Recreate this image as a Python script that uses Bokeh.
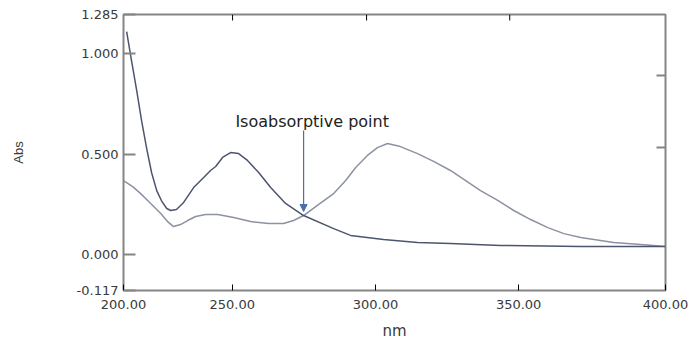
import math
from bokeh.plotting import figure
from bokeh.models import (LinearAxis, FixedTicker, NumeralTickFormatter, Range1d,
                          Arrow, NormalHead, Label)
from bokeh.embed import file_html
from bokeh.resources import INLINE

# ---------------- data ----------------
# spectrum A (sharp UV rise, band near 250 nm)
NM_A = [213.1, 214.8, 216.6, 218.3, 220.1, 221.8, 223.6, 225.4, 227.1, 228.5,
        230.5, 233.0, 236.5, 240.0, 242.4, 244.2, 246.6, 249.4, 252.2, 255.3,
        259.2, 263.4, 268.6, 274.9, 285.4, 291.3, 302.8, 314.7, 326.2, 343.7,
        371.7, 401.3]
ABS_A = [1.109, 0.965, 0.816, 0.667, 0.527, 0.408, 0.318, 0.264, 0.229, 0.219,
         0.224, 0.259, 0.333, 0.383, 0.418, 0.438, 0.483, 0.507, 0.502, 0.468,
         0.408, 0.333, 0.254, 0.194, 0.129, 0.095, 0.075, 0.060, 0.055, 0.045,
         0.040, 0.040]

# spectrum B (band near 305 nm)
NM_B = [212.0, 215.2, 218.0, 221.5, 225.0, 227.4, 229.5, 231.9, 234.4, 237.2,
        240.7, 244.9, 250.5, 256.4, 262.7, 267.9, 271.4, 274.9, 280.2, 285.4,
        289.6, 293.1, 297.2, 300.7, 304.2, 308.7, 314.7, 320.3, 326.2, 331.5,
        336.7, 342.7, 348.3, 354.2, 360.2, 365.8, 371.7, 383.2, 392.6, 401.3]
ABS_B = [0.368, 0.338, 0.303, 0.254, 0.204, 0.164, 0.139, 0.149, 0.169, 0.189,
         0.199, 0.199, 0.184, 0.164, 0.154, 0.154, 0.169, 0.194, 0.249, 0.303,
         0.368, 0.433, 0.493, 0.532, 0.552, 0.537, 0.502, 0.463, 0.418, 0.368,
         0.318, 0.269, 0.219, 0.174, 0.134, 0.104, 0.085, 0.060, 0.050, 0.040]

# isoabsorptive point
ISO_NM = 274.9
ISO_ABS = 0.194
ANNOT_TEXT = "Isoabsorptive point"

# axes
X_START, X_END = 212.0, 401.3
Y_START, Y_END = -0.179, 1.194
X_TICKS = [250, 300, 350]
X_EDGE_LABELS = ["200.00", "400.00"]
Y_TICKS = [0.0, 0.5, 1.0]
Y_EDGE_LABELS = ["-0.117", "1.285"]
TOP_TICKS = [250.1, 296.9, 346.9]
RIGHT_TICKS = [0.532, 0.891]
X_LABEL = "nm"
Y_LABEL = "Abs"

# ---------------- figure ----------------
FRAME_GRAY = "#858585"
LABEL_COLOR = "#3a3a3a"

p = figure(width=691, height=342, output_backend="svg", toolbar_location=None,
           x_range=Range1d(X_START, X_END), y_range=Range1d(Y_START, Y_END),
           min_border_left=123, min_border_right=26, min_border_top=14,
           min_border_bottom=52, x_axis_location=None, y_axis_location=None)
p.grid.visible = False
p.outline_line_color = FRAME_GRAY
p.outline_line_width = 2
p.background_fill_color = "white"
p.border_fill_color = "white"

# bottom axis
xb = LinearAxis(ticker=FixedTicker(ticks=[X_START] + X_TICKS + [X_END]),
                formatter=NumeralTickFormatter(format="0.00"),
                major_label_overrides={X_START: X_EDGE_LABELS[0], X_END: X_EDGE_LABELS[1]},
                axis_label=X_LABEL)
xb.axis_line_color = None
xb.major_tick_in = 6
xb.major_tick_out = 0
xb.major_tick_line_color = "black"
xb.minor_tick_line_color = None
xb.major_label_text_font = "DejaVu Sans"
xb.major_label_text_font_size = "13px"
xb.major_label_text_color = LABEL_COLOR
xb.major_label_standoff = 9
xb.axis_label_text_font = "DejaVu Sans"
xb.axis_label_text_font_size = "15px"
xb.axis_label_text_font_style = "normal"
xb.axis_label_text_color = LABEL_COLOR
xb.axis_label_standoff = 10
p.add_layout(xb, "below")

# left axis
yl = LinearAxis(ticker=FixedTicker(ticks=[Y_START] + Y_TICKS + [Y_END]),
                formatter=NumeralTickFormatter(format="0.000"),
                major_label_overrides={Y_START: Y_EDGE_LABELS[0], Y_END: Y_EDGE_LABELS[1]},
                axis_label=Y_LABEL)
yl.axis_line_color = None
yl.major_tick_in = 12
yl.major_tick_out = 0
yl.major_tick_line_color = FRAME_GRAY
yl.major_tick_line_width = 2
yl.minor_tick_line_color = None
yl.major_label_text_font = "DejaVu Sans"
yl.major_label_text_font_size = "13px"
yl.major_label_text_color = LABEL_COLOR
yl.major_label_standoff = 5
yl.axis_label_text_font = "Liberation Sans"
yl.axis_label_text_font_size = "13px"
yl.axis_label_text_font_style = "normal"
yl.axis_label_text_color = LABEL_COLOR
yl.axis_label_standoff = 48
p.add_layout(yl, "left")

# inward tick marks on the top and right frame edges
p.ray(x=TOP_TICKS, y=[Y_END] * len(TOP_TICKS), length=6, length_units="screen",
      angle=-math.pi / 2, line_color="black", line_width=1)
p.ray(x=[X_END] * len(RIGHT_TICKS), y=RIGHT_TICKS, length=9, length_units="screen",
      angle=math.pi, line_color=FRAME_GRAY, line_width=2)

# spectra
p.line(NM_B, ABS_B, line_color="#8d92a2", line_width=1.5)
p.line(NM_A, ABS_A, line_color="#4d5470", line_width=1.5)

# annotation arrow + text
arrow_top = ISO_ABS + 0.423
arrow_tip = ISO_ABS + 0.02
p.add_layout(Arrow(end=NormalHead(size=7, fill_color="#4a6fae", line_color="#4a6fae"),
                   x_start=ISO_NM, y_start=arrow_top, x_end=ISO_NM, y_end=arrow_tip,
                   line_color="#4a6fae", line_width=1.2))
p.add_layout(Label(x=ISO_NM + 3.0, y=ISO_ABS + 0.468, text=ANNOT_TEXT,
                   text_align="center", text_baseline="alphabetic",
                   text_font="DejaVu Sans", text_font_size="16px",
                   text_color="#222222"))

open("out.html", "w").write(file_html(p, INLINE))
